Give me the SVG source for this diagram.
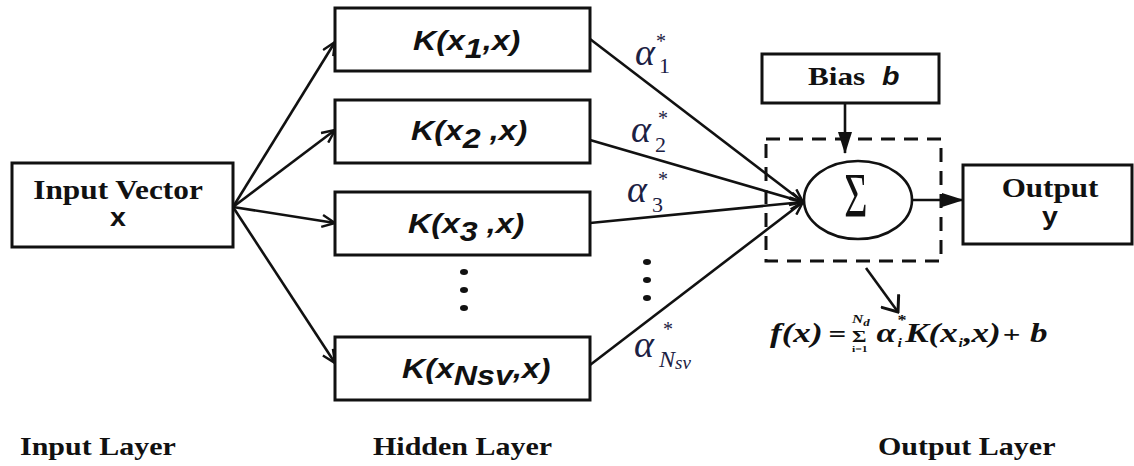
<svg xmlns="http://www.w3.org/2000/svg" width="1134" height="466" viewBox="0 0 1134 466">
  <style>
    .box { fill: #fff; stroke: #111; stroke-width: 3; }
    .dash { fill: none; stroke: #111; stroke-width: 3; stroke-dasharray: 14 9; }
    .edge { fill: none; stroke: #111; stroke-width: 2.6; }
    .serifB { font-family: "Liberation Serif", "Times New Roman", serif; font-weight: bold; fill: #111; }
    .sansB { font-family: "Liberation Sans", Arial, sans-serif; font-weight: bold; fill: #111; }
    .sansBI { font-family: "Liberation Sans", Arial, sans-serif; font-weight: bold; font-style: italic; fill: #111; }
    .serifBI { font-family: "Liberation Serif", "Times New Roman", serif; font-weight: bold; font-style: italic; fill: #111; }
    .alpha { font-family: "Liberation Serif", "Times New Roman", serif; font-style: italic; fill: #1c2143; }
    .num { font-family: "Liberation Serif", "Times New Roman", serif; fill: #1c2143; }
    .dot { fill: #111; }
  </style>
  <defs>
    <marker id="open" viewBox="0 0 16 14" refX="14" refY="7" markerWidth="16" markerHeight="14" markerUnits="userSpaceOnUse" orient="auto">
      <path d="M1,1 L14,7 L1,13" fill="none" stroke="#111" stroke-width="2.4"/>
    </marker>
    <marker id="openL" viewBox="0 0 20 24" refX="18" refY="12" markerWidth="20" markerHeight="24" markerUnits="userSpaceOnUse" orient="auto">
      <path d="M4,1 L18,12 L4,23" fill="none" stroke="#111" stroke-width="3"/>
    </marker>
    <marker id="solid" viewBox="0 0 22 16" refX="21" refY="8" markerWidth="22" markerHeight="16" markerUnits="userSpaceOnUse" orient="auto">
      <path d="M0,1 L22,8 L0,15 z" fill="#111"/>
    </marker>
  </defs>

  <!-- connectors -->
  <g id="connectors">
    <!-- input fan-out -->
    <line class="edge" x1="233" y1="207" x2="335" y2="42" marker-end="url(#open)"/>
    <line class="edge" x1="233" y1="207" x2="335" y2="130" marker-end="url(#open)"/>
    <line class="edge" x1="233" y1="207" x2="335" y2="223" marker-end="url(#open)"/>
    <line class="edge" x1="233" y1="207" x2="335" y2="363" marker-end="url(#open)"/>
    <!-- kernels into the summation -->
    <line class="edge" x1="590" y1="39" x2="803" y2="202" marker-end="url(#open)"/>
    <line class="edge" x1="590" y1="140" x2="803" y2="202" marker-end="url(#open)"/>
    <line class="edge" x1="590" y1="223" x2="803" y2="202" marker-end="url(#open)"/>
    <line class="edge" x1="590" y1="365" x2="803" y2="202" marker-end="url(#open)"/>
    <!-- bias into the summation -->
    <line class="edge" x1="845" y1="103" x2="845" y2="153" marker-end="url(#solid)"/>
    <!-- summation to output -->
    <line class="edge" x1="912" y1="200" x2="963" y2="200" marker-end="url(#solid)"/>
    <!-- summation to formula -->
    <line class="edge" x1="866" y1="268" x2="898" y2="312" stroke-width="3" marker-end="url(#openL)"/>
  </g>

  <!-- input node -->
  <g id="input">
    <rect class="box" x="12" y="163" width="221" height="84"/>
    <text class="serifB" font-size="27" text-anchor="middle" transform="translate(118,199) scale(1.16,1)">Input Vector</text>
    <text class="sansB" font-size="26" text-anchor="middle" transform="translate(118,226) scale(1.1,1)">x</text>
  </g>

  <!-- hidden kernel nodes -->
  <g id="k1">
    <rect class="box" x="335" y="8" width="255" height="63"/>
    <text class="sansBI" font-size="28" transform="translate(413,50) scale(1.15,1)">K(x<tspan dy="8">1</tspan><tspan dy="-8">,x)</tspan></text>
  </g>
  <g id="k2">
    <rect class="box" x="335" y="100" width="255" height="63"/>
    <text class="sansBI" font-size="28" transform="translate(411,140) scale(1.15,1)">K(x<tspan dy="8">2</tspan><tspan dy="-8"> ,x)</tspan></text>
  </g>
  <g id="k3">
    <rect class="box" x="335" y="192" width="255" height="63"/>
    <text class="sansBI" font-size="28" transform="translate(408,233) scale(1.15,1)">K(x<tspan dy="8">3</tspan><tspan dy="-8"> ,x)</tspan></text>
  </g>
  <g id="hidden-dots">
    <ellipse class="dot" cx="464" cy="272" rx="4" ry="3"/>
    <ellipse class="dot" cx="464" cy="290" rx="4" ry="3"/>
    <ellipse class="dot" cx="464" cy="308" rx="4" ry="3"/>
  </g>
  <g id="knsv">
    <rect class="box" x="335" y="337" width="255" height="63"/>
    <text class="sansBI" font-size="28" transform="translate(402,378) scale(1.15,1)">K(x<tspan dy="7">Nsv</tspan><tspan dy="-7">,x)</tspan></text>
  </g>

  <!-- weights -->
  <g id="weights">
    <text class="alpha" font-size="38" x="635" y="65">α</text>
    <text class="num" font-size="22" x="659" y="73">1</text>
    <text class="num" font-size="20" x="656" y="48">*</text>

    <text class="alpha" font-size="38" x="631" y="142">α</text>
    <text class="num" font-size="22" x="655" y="152">2</text>
    <text class="num" font-size="20" x="658" y="125">*</text>

    <text class="alpha" font-size="38" x="627" y="202">α</text>
    <text class="num" font-size="22" x="652" y="212">3</text>
    <text class="num" font-size="20" x="658" y="186">*</text>

    <ellipse class="dot" cx="647" cy="262" rx="4" ry="3"/>
    <ellipse class="dot" cx="647" cy="280" rx="4" ry="3"/>
    <ellipse class="dot" cx="647" cy="298" rx="4" ry="3"/>

    <text class="alpha" font-size="38" x="634" y="357">α</text>
    <text class="alpha" font-size="24" x="659" y="367">N<tspan font-size="19" dy="2">sv</tspan></text>
    <text class="num" font-size="20" x="663" y="336">*</text>
  </g>

  <!-- bias node -->
  <g id="bias">
    <rect class="box" x="762" y="54" width="177" height="49"/>
    <text class="serifB" font-size="26" transform="translate(808,85) scale(1.2,1)">Bias</text>
    <text class="sansBI" font-size="26" transform="translate(882,85) scale(1.1,1)">b</text>
  </g>

  <!-- summation node -->
  <g id="sum">
    <rect class="dash" x="766" y="139" width="175" height="122"/>
    <ellipse cx="858" cy="200" rx="54" ry="39" fill="#fff" stroke="#111" stroke-width="2.6"/>
    <text font-family="Liberation Serif, Times New Roman, serif" font-size="40" fill="#111" text-anchor="middle" transform="translate(856,217) scale(1,1.6)">Σ</text>
  </g>

  <!-- output node -->
  <g id="output">
    <rect class="box" x="963" y="165" width="169" height="79"/>
    <text class="serifB" font-size="27" text-anchor="middle" transform="translate(1050,197) scale(1.15,1)">Output</text>
    <text class="sansB" font-size="26" text-anchor="middle" transform="translate(1050,225) scale(1.1,1)">y</text>
  </g>

  <!-- decision function -->
  <g id="formula" transform="translate(770,342) scale(1.3,1)">
    <text class="serifBI" font-size="27" x="0" y="0">f(x)</text>
    <text class="serifB" font-size="24" x="45" y="0">=</text>
    <text class="serifB" font-size="17" x="63" y="0">Σ</text>
    <text class="serifBI" font-size="12" x="63" y="-19">N<tspan font-size="10" dy="3">d</tspan></text>
    <text class="serifB" font-size="9" x="63" y="10">i=1</text>
    <text class="serifBI" font-size="27" x="82" y="0">α</text>
    <text class="serifB" font-size="14" x="98" y="-17">*</text>
    <text class="serifBI" font-size="12" x="98" y="5">i</text>
    <text class="serifBI" font-size="27" x="104" y="0">K(x</text>
    <text class="serifBI" font-size="12" x="145" y="5">i</text>
    <text class="serifBI" font-size="27" x="149" y="0">,</text>
    <text class="serifBI" font-size="27" x="155" y="0">x)</text>
    <text class="serifB" font-size="24" x="179" y="0">+</text>
    <text class="serifBI" font-size="27" x="200" y="0">b</text>
  </g>

  <!-- layer captions -->
  <g id="captions">
    <text class="serifB" font-size="25" transform="translate(20,455) scale(1.2,1)">Input Layer</text>
    <text class="serifB" font-size="25" transform="translate(373,455) scale(1.2,1)">Hidden Layer</text>
    <text class="serifB" font-size="25" transform="translate(878,455) scale(1.2,1)">Output Layer</text>
  </g>
</svg>
